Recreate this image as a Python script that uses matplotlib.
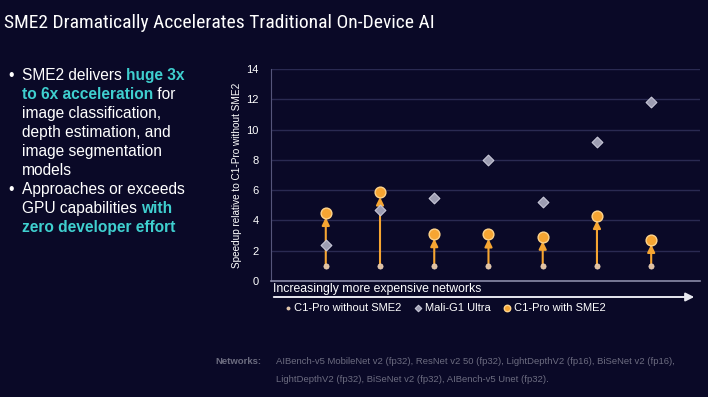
import matplotlib
matplotlib.use("Agg")
import matplotlib.pyplot as plt
import numpy as np

# ---- data ----
networks = ["AIBench-v5 MobileNet v2 (fp32)", "ResNet v2 50 (fp32)", "LightDepthV2 (fp16)",
            "BiSeNet v2 (fp16)", "LightDepthV2 (fp32)", "BiSeNet v2 (fp32)", "AIBench-v5 Unet (fp32)"]
c1_without = [1, 1, 1, 1, 1, 1, 1]
mali_g1 = [2.4, 4.7, 5.45, 8.0, 5.2, 9.2, 11.8]
c1_with = [4.5, 5.85, 3.1, 3.08, 2.93, 4.3, 2.72]
yticks = [0, 2, 4, 6, 8, 10, 12, 14]

BG = "#0a0927"
GRID = "#2a2a52"
ORANGE = "#f6a532"
CYAN = "#3fcfcf"
FONT = ["Liberation Sans", "DejaVu Sans"]
plt.rcParams["font.family"] = FONT

fig = plt.figure(figsize=(7.08, 3.97), dpi=100, facecolor=BG)

# title
fig.text(4 / 708, 1 - 23 / 397, "SME2 Dramatically Accelerates Traditional On-Device AI",
         color="white", fontsize=14, va="center", ha="left",
         family=["Liberation Sans Narrow", "Roboto Condensed", "Open Sans Condensed",
                 "DejaVu Sans Condensed"], fontstretch="condensed")

# bullets
tx = 22 / 708
bx = 8 / 708
lines = [
    [("SME2 delivers ", "white", "normal"), ("huge 3x", CYAN, "bold")],
    [("to 6x acceleration", CYAN, "bold"), (" for", "white", "normal")],
    [("image classification,", "white", "normal")],
    [("depth estimation, and", "white", "normal")],
    [("image segmentation", "white", "normal")],
    [("models", "white", "normal")],
    [("Approaches or exceeds", "white", "normal")],
    [("GPU capabilities ", "white", "normal"), ("with", CYAN, "bold")],
    [("zero developer effort", CYAN, "bold")],
]
bullet_rows = [0, 6]
y0 = 80
dy = 19.0
fs = 11.2
for i, parts in enumerate(lines):
    yy = 1 - (y0 + i * dy) / 397
    if i in bullet_rows:
        fig.text(bx, yy, "•", color="white", fontsize=fs, va="baseline", ha="left")
    prev = None
    for txt, col, wt in parts:
        if prev is None:
            prev = fig.text(tx, yy, txt, color=col, fontsize=fs, fontweight=wt,
                            va="baseline", ha="left")
        else:
            prev = fig.text(0, yy, txt, color=col, fontsize=fs, fontweight=wt,
                            va="baseline", ha="left")
            prev._chain_from = last
        last = prev

# position chained pieces after first draw
fig.canvas.draw()
r = fig.canvas.get_renderer()
for t in fig.texts:
    if hasattr(t, "_chain_from"):
        src = t._chain_from
        bb = src.get_window_extent(r)
        t.set_position((bb.x1 / fig.bbox.width, src.get_position()[1]))

ax = fig.add_axes([271 / 708, 1 - 281 / 397, (700 - 271) / 708, 212 / 397])
ax.set_facecolor(BG)
x = np.arange(len(networks))
ax.set_xlim(-1.01, 6.9)
ax.set_ylim(0, 14)
ax.set_yticks(yticks)
ax.set_xticks([])
ax.grid(axis="y", color=GRID, linewidth=1.0)
ax.set_axisbelow(True)
for s in ["top", "right"]:
    ax.spines[s].set_visible(False)
ax.spines["left"].set_color("#55557a")
ax.spines["bottom"].set_color("#8a8aa8")
ax.spines["bottom"].set_linewidth(1.2)
ax.tick_params(axis="y", colors="white", labelsize=8, length=0, pad=9)
ax.set_ylabel("Speedup relative to C1-Pro without SME2", color="white", fontsize=7.2, labelpad=3)

for xi, a, b in zip(x, c1_without, c1_with):
    ax.annotate("", xy=(xi, b - 0.3), xytext=(xi, a),
                arrowprops=dict(arrowstyle="-|>,head_width=0.22,head_length=0.45",
                                color=ORANGE, lw=1.5, shrinkA=0, shrinkB=0), zorder=2)
ax.scatter(x, mali_g1, marker="D", s=30, color="#9d9db2", edgecolors="#c8c8d8",
           linewidths=0.8, zorder=3, label="Mali-G1 Ultra")
ax.scatter(x, c1_without, marker="o", s=14, color="#e0c0a0", edgecolors="#f0d8c0",
           linewidths=0.5, zorder=4, label="C1-Pro without SME2")
ax.scatter(x, c1_with, marker="o", s=60, color=ORANGE, edgecolors="#ffd38a",
           linewidths=1.0, zorder=4, label="C1-Pro with SME2")

# x-axis arrow and label
fig.patches.append(matplotlib.patches.FancyArrowPatch(
    (271 / 708, 1 - 297 / 397), (697 / 708, 1 - 297 / 397), transform=fig.transFigure,
    arrowstyle="-|>,head_width=2.5,head_length=5", color="#e8e8f0", lw=1.4))
fig.text(273 / 708, 1 - 289 / 397, "Increasingly more expensive networks", color="white",
         fontsize=8.8, va="center", ha="left")

h, l = ax.get_legend_handles_labels()
order = [1, 0, 2]
leg = fig.legend([h[i] for i in order], [l[i] for i in order], ncol=3, frameon=False,
                 loc="center left", bbox_to_anchor=(272 / 708, 1 - 308 / 397),
                 fontsize=8, handletextpad=0.1, columnspacing=1.0, handlelength=1.0,
                 markerscale=0.6)
for t in leg.get_texts():
    t.set_color("white")

GRAY = "#6c6c80"
fig.text(215 / 708, 1 - 362 / 397, "Networks:", color=GRAY, fontsize=6.8,
         fontweight="bold", va="center", ha="left")
fig.text(276 / 708, 1 - 362 / 397, ", ".join(networks[:4]) + ",", color=GRAY,
         fontsize=6.8, va="center", ha="left")
fig.text(276 / 708, 1 - 379 / 397, ", ".join(networks[4:]) + ".", color=GRAY,
         fontsize=6.8, va="center", ha="left")

fig.savefig("out.png", dpi=100, facecolor=BG)
